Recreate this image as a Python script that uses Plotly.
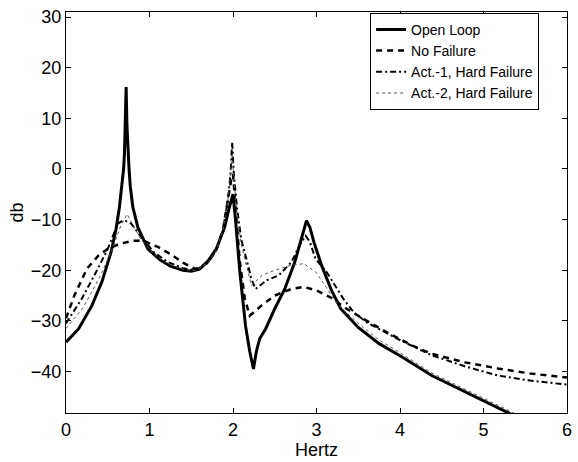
import plotly.graph_objects as go

# Open Loop (solid)
ol_x = [0, 0.15, 0.31, 0.43, 0.54, 0.60, 0.64, 0.67, 0.69, 0.70, 0.71, 0.72, 0.73, 0.74, 0.755, 0.77, 0.80, 0.86, 0.98,
        1.13, 1.25, 1.40, 1.50, 1.60, 1.70, 1.80, 1.90, 1.95, 1.98, 2.00, 2.03, 2.08, 2.15, 2.20, 2.245, 2.28, 2.32,
        2.39, 2.50, 2.62, 2.74, 2.82, 2.88, 2.92, 2.97, 3.06, 3.18, 3.29, 3.50, 3.75, 4.00, 4.38, 4.78, 5.17, 5.40]
ol_y = [-34.2, -31.6, -27.0, -22.3, -16.4, -11.8, -7.5, -3.5, 0.0, 3.0, 8.0, 16.2, 8.5, 3.5, 0.0, -3.5, -7.5, -11.5, -15.8,
        -18.0, -19.2, -20.0, -20.2, -19.8, -18.2, -15.8, -11.5, -8.0, -6.0, -5.0, -10.0, -20.0, -31.0, -36.0, -39.5, -36.0, -33.5,
        -31.6, -27.6, -23.7, -18.4, -13.8, -10.2, -11.5, -14.5, -19.0, -24.0, -27.6, -31.3, -34.5, -36.9, -40.8, -44.0, -47.0, -49.0]

# No Failure (dashed)
nf_x = [0, 0.10, 0.25, 0.39, 0.50, 0.64, 0.80, 0.93, 1.10, 1.25, 1.40, 1.55, 1.70, 1.80, 1.88, 1.94, 1.98, 2.00, 2.03,
        2.08, 2.14, 2.20, 2.34, 2.50, 2.70, 2.85, 3.00, 3.16, 3.36, 3.56, 3.87, 4.15, 4.38, 4.78, 5.17, 5.56, 6.00]
nf_y = [-29.5, -25.0, -19.7, -17.1, -15.8, -14.8, -14.2, -14.2, -15.4, -16.8, -18.5, -19.8, -18.5, -16.0, -12.0, -6.0, -2.0, -1.0, -8.0,
        -18.0, -25.5, -29.0, -27.0, -25.0, -23.7, -23.3, -24.0, -25.3, -27.6, -29.6, -32.5, -34.9, -36.5, -38.2, -39.4, -40.4, -41.2]

# Act.-1, Hard Failure (dash-dot)
a1_x = [0, 0.19, 0.34, 0.50, 0.62, 0.68, 0.72, 0.78, 0.90, 1.05, 1.21, 1.40, 1.55, 1.70, 1.80, 1.88, 1.94, 1.97, 1.99,
        2.01, 2.05, 2.10, 2.17, 2.22, 2.27, 2.40, 2.55, 2.70, 2.80, 2.87, 2.92, 2.99, 3.12, 3.32, 3.44, 3.60, 4.00,
        4.38, 4.78, 5.17, 5.56, 6.00]
a1_y = [-30.5, -25.6, -21.0, -15.8, -10.8, -10.2, -10.3, -10.8, -13.4, -16.4, -18.3, -19.6, -20.0, -18.5, -16.0, -12.0, -6.0, -1.0, 5.3,
        -1.0, -8.0, -14.0, -18.4, -21.7, -23.7, -22.0, -21.0, -18.4, -15.0, -13.2, -14.4, -17.8, -20.3, -25.6, -28.2, -30.3, -33.8,
        -36.8, -39.0, -40.8, -41.8, -42.6]

# Act.-2, Hard Failure (dotted)
a2_x = [0, 0.20, 0.40, 0.55, 0.65, 0.73, 0.80, 0.90, 1.05, 1.20, 1.40, 1.55, 1.70, 1.80, 1.88, 1.94, 1.97, 1.99, 2.01,
        2.05, 2.10, 2.17, 2.22, 2.35, 2.50, 2.70, 2.85, 3.00, 3.10, 3.20, 3.30, 3.50, 3.75, 4.00, 4.38, 4.78, 5.17, 5.40]
a2_y = [-31.5, -27.5, -21.5, -16.0, -11.5, -8.9, -11.0, -14.0, -16.8, -18.6, -19.8, -20.1, -18.5, -16.0, -12.0, -6.0, -1.0, 3.0, -2.0,
        -9.0, -15.0, -20.0, -23.0, -21.0, -20.0, -19.0, -18.7, -20.5, -23.0, -25.5, -27.5, -30.5, -33.8, -36.3, -40.3, -43.5, -46.5, -48.5]

x_ticks = [0, 1, 2, 3, 4, 5, 6]
y_ticks = [-40, -30, -20, -10, 0, 10, 20, 30]

FONT = "Arial, Liberation Sans, Helvetica, sans-serif"

fig = go.Figure()
fig.add_trace(go.Scatter(x=ol_x, y=ol_y, mode="lines", name="Open Loop",
                         line=dict(color="black", width=3, dash="solid")))
fig.add_trace(go.Scatter(x=nf_x, y=nf_y, mode="lines", name="No Failure",
                         line=dict(color="black", width=2.5, dash="6px,5px")))
fig.add_trace(go.Scatter(x=a1_x, y=a1_y, mode="lines", name="Act.-1, Hard Failure",
                         line=dict(color="black", width=2, dash="6px,3px,2px,3px")))
fig.add_trace(go.Scatter(x=a2_x, y=a2_y, mode="lines", name="Act.-2, Hard Failure",
                         line=dict(color="#555555", width=1, dash="dot")))

axis_common = dict(showgrid=False, zeroline=False, showline=True, linecolor="black", linewidth=1,
                   mirror="ticks", ticks="inside", ticklen=5, tickcolor="black",
                   tickfont=dict(family=FONT, size=18, color="black"))

fig.update_layout(
    width=578, height=462,
    margin=dict(l=66, r=6, t=12, b=49),
    paper_bgcolor="white", plot_bgcolor="white",
    font=dict(family=FONT, color="black"),
    xaxis=dict(range=[0, 6], tickvals=x_ticks, ticktext=[str(v) for v in x_ticks],
               title=dict(text="Hertz", font=dict(family=FONT, size=18), standoff=0), **axis_common),
    yaxis=dict(range=[-48.2, 31], tickvals=y_ticks, ticktext=[str(v) if v >= 0 else "\u2212" + str(-v) for v in y_ticks],
               title=dict(text="db", font=dict(family=FONT, size=18), standoff=2), **axis_common),
    legend=dict(x=0.607, y=0.998, xanchor="left", yanchor="top", bgcolor="white",
                bordercolor="black", borderwidth=1, font=dict(family=FONT, size=14),
                tracegroupgap=0, itemwidth=30),
    showlegend=True,
)

fig.write_html("out.html")
